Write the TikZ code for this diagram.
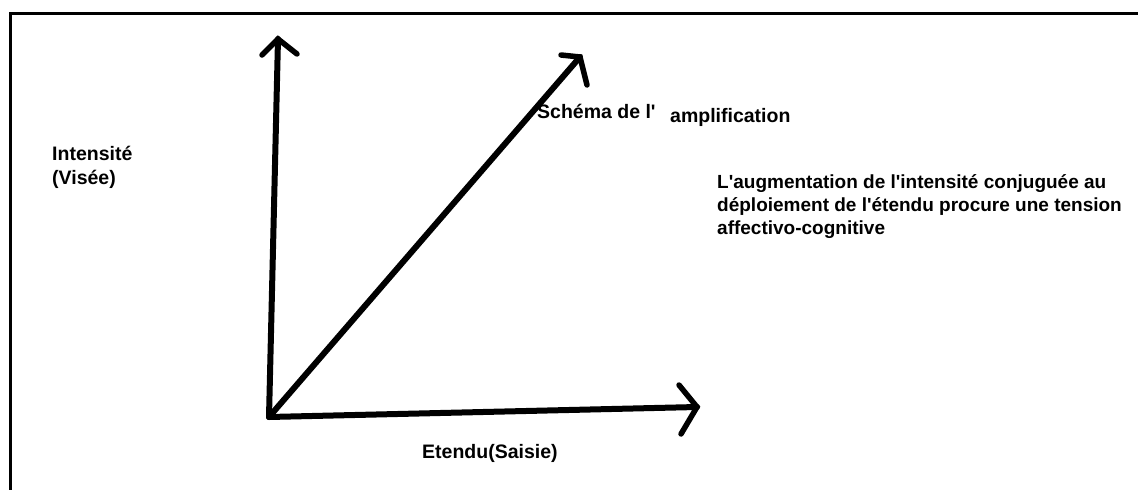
\documentclass[tikz,border=0pt]{standalone}
\usepackage{fontspec}
\setmainfont{Liberation Sans}
\newcommand{\ap}{\textquotesingle}
\begin{document}
\begin{tikzpicture}[x=1pt,y=-1pt,
  axisline/.style={line width=6pt,line cap=round,line join=round},
  headarm/.style={line width=5.5pt,line cap=round},
  framestyle/.style={line width=3pt},
  lbl/.style={anchor=base west,inner sep=0pt,font=\bfseries\fontsize{19.5}{23.5}\selectfont},
  para/.style={anchor=base west,inner sep=0pt,font=\bfseries\fontsize{19}{23.5}\selectfont}]
\useasboundingbox (0,0) rectangle (1138,490);
\fill[white] (0,0) rectangle (1138,490);
% frame
\coordinate (FL) at (10,490);
\coordinate (FC) at (10,13);
\coordinate (FR) at (1140,13);
\draw[framestyle] (FL) -- (FC) -- (FR);
% axes
\coordinate (O) at (269,417);
\coordinate (V) at (278,39);
\coordinate (D) at (580,57);
\coordinate (H) at (697,407);
\draw[axisline] (O) -- (V);
\draw[axisline] (O) -- (D);
\draw[axisline] (O) -- (H);
% arrow heads
\coordinate (V1) at (262,55);
\coordinate (V2) at (297,54);
\draw[headarm] (V1) -- (V) -- (V2);
\coordinate (D1) at (561,55);
\coordinate (D2) at (587,85);
\draw[headarm] (D1) -- (D) -- (D2);
\coordinate (H1) at (679,385);
\coordinate (H2) at (681,434);
\draw[headarm] (H1) -- (H) -- (H2);
% labels
\node[lbl] (int) at (52,160) {Intensité};
\node[lbl] (vis) at (52,184) {(Visée)};
\node[lbl] (sch) at (537,118) {Schéma de l\ap};
\node[lbl] (amp) at (670,122) {amplification};
\node[lbl] (ete) at (422,458) {Etendu(Saisie)};
\node[para] (txt1) at (717,188) {L\ap augmentation de l\ap intensité conjuguée au};
\node[para] (txt2) at (717,211) {déploiement de l\ap étendu procure une tension};
\node[para] (txt3) at (717,234) {affectivo-cognitive};
\end{tikzpicture}
\end{document}
